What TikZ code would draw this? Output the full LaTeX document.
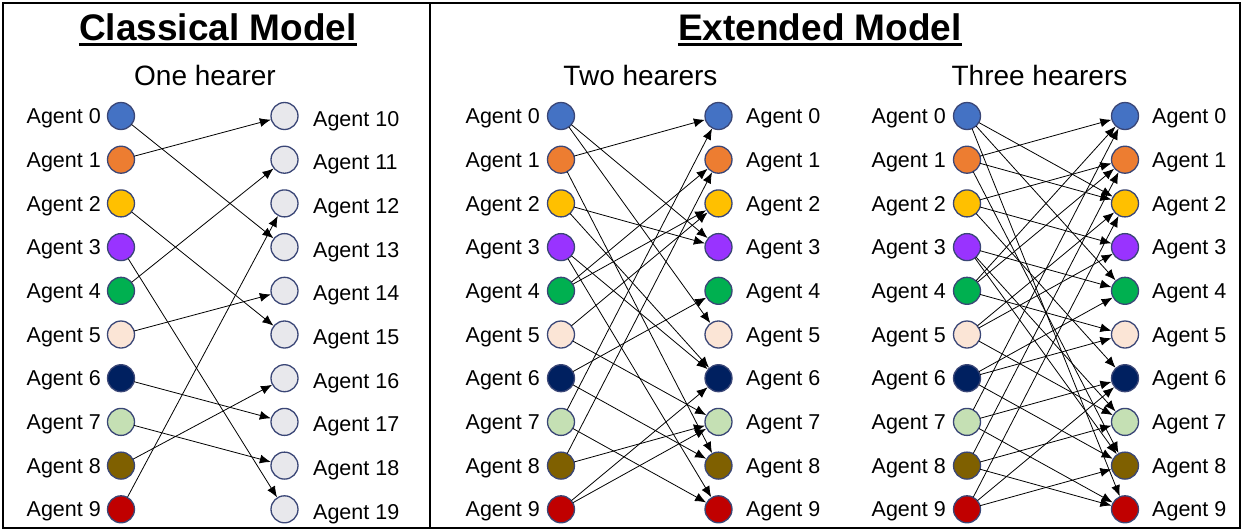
\documentclass[tikz,border=0pt]{standalone}
\usepackage{fontspec}
\setmainfont{Liberation Sans}
\usetikzlibrary{arrows.meta}
\definecolor{c0}{RGB}{68,114,196}
\definecolor{c1}{RGB}{237,125,49}
\definecolor{c2}{RGB}{255,192,0}
\definecolor{c3}{RGB}{153,51,255}
\definecolor{c4}{RGB}{0,176,80}
\definecolor{c5}{RGB}{251,229,214}
\definecolor{c6}{RGB}{0,32,96}
\definecolor{c7}{RGB}{197,224,180}
\definecolor{c8}{RGB}{127,96,0}
\definecolor{c9}{RGB}{192,0,0}
\definecolor{cg}{RGB}{232,232,236}
\definecolor{bord}{RGB}{58,70,118}
\begin{document}
\begin{tikzpicture}[x=1pt,y=-1pt,
  ag/.style={circle,draw=bord,line width=1.3pt,minimum size=27pt,inner sep=0pt},
  lab/.style={font=\fontsize{21.5}{24}\selectfont,inner sep=0pt},
  ttl/.style={font=\fontsize{37}{40}\selectfont\bfseries,inner sep=0pt},
  sub/.style={font=\fontsize{28}{30}\selectfont,inner sep=0pt},
  conn/.style={line width=0.8pt,-{Latex[length=11pt,width=9pt]},shorten <=-0.5pt}]
\useasboundingbox (0,0) rectangle (1243,531);
\draw[line width=2pt] (3,3) rectangle (1240,528);
\draw[line width=2pt] (430,3) -- (430,528);
% titles
\node[ttl,anchor=base] (t1) at (218,40) {Classical Model};
\draw[line width=3.2pt] ([yshift=-4.3pt]t1.base west) -- ([yshift=-4.3pt]t1.base east);
\node[ttl,anchor=base] (t2) at (820,40) {Extended Model};
\draw[line width=3.2pt] ([yshift=-4.3pt]t2.base west) -- ([yshift=-4.3pt]t2.base east);
\node[sub,anchor=base] (s1) at (205,85) {One hearer};
\node[sub,anchor=base] (s2) at (640.5,85) {Two hearers};
\node[sub,anchor=base] (s3) at (1039.5,85) {Three hearers};
% nodes
\foreach \i in {0,...,9}{
  \pgfmathsetmacro{\yy}{116+43.7*\i}
  % classical
  \node[ag,fill=c\i] (cL\i) at (121,\yy) {};
  \node[lab,anchor=base east] (cLt\i) at (101,\yy+7.6) {Agent \i};
  \node[ag,fill=cg] (cR\i) at (284.5,\yy) {};
  \node[lab,anchor=base west] (cRt\i) at (313,\yy+10) {Agent 1\i};
  % two hearers
  \node[ag,fill=c\i] (tL\i) at (561,\yy) {};
  \node[lab,anchor=base east] (tLt\i) at (540,\yy+7.6) {Agent \i};
  \node[ag,fill=c\i] (tR\i) at (718.5,\yy) {};
  \node[lab,anchor=base west] (tRt\i) at (746,\yy+7.6) {Agent \i};
  % three hearers
  \node[ag,fill=c\i] (hL\i) at (967,\yy) {};
  \node[lab,anchor=base east] (hLt\i) at (946,\yy+7.6) {Agent \i};
  \node[ag,fill=c\i] (hR\i) at (1125,\yy) {};
  \node[lab,anchor=base west] (hRt\i) at (1152,\yy+7.6) {Agent \i};
}
% classical edges
\foreach \a/\b in {0/3,1/0,2/5,3/9,4/1,5/4,6/7,7/8,8/6,9/2}
  \draw[conn] (cL\a) -- (cR\b);
% two hearers edges
\foreach \a/\b in {0/3,0/5,1/0,1/8,2/3,2/6,3/6,3/9,4/1,4/2,5/2,5/7,6/4,6/8,7/0,7/9,8/1,8/7,9/6,9/7}
  \draw[conn] (tL\a) -- (tR\b);
% three hearers edges
\foreach \a/\b in {0/2,0/4,0/9,1/0,1/2,1/8,2/1,2/3,2/6,3/4,3/7,3/8,4/0,4/1,4/5,5/2,5/3,5/7,6/5,6/4,6/8,7/6,7/0,7/9,8/7,8/9,8/1,9/6,9/8,9/2}
  \draw[conn] (hL\a) -- (hR\b);
\end{tikzpicture}
\end{document}
